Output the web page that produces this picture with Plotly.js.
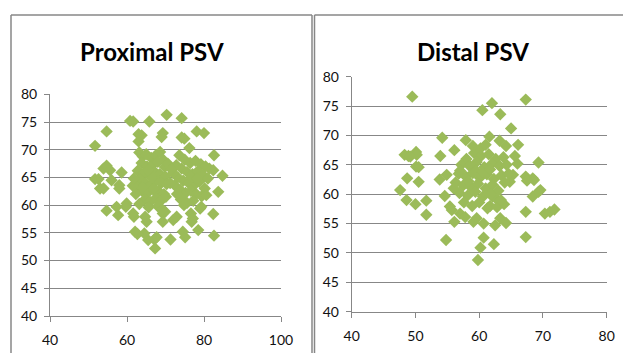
<!DOCTYPE html>
<html>
<head>
<meta charset="utf-8">
<script src="https://cdn.plot.ly/plotly-3.0.1.min.js"></script>
<style>html,body{margin:0;padding:0;background:#fff;}#chart{width:627px;height:353px;}</style>
</head>
<body>
<div id="chart"></div>
<script>
// Proximal PSV scatter values
const proximalX = [51.7,54.7,60.8,61.6,65.8,70.3,74.2,78.1,80.0,63.0,63.8,69.3,69.0,74.2,74.9,76.2,63.0,82.6,81.4,82.4,84.8,83.7,82.4,82.6,78.5,79.0,79.3,76.8,74.5,75.1,71.3,67.1,67.7,67.3,65.5,64.5,62.1,62.7,61.8,61.6,59.9,59.7,57.7,57.3,54.7,52.6,51.7,53.0,53.9,53.9,54.7,55.6,56.0,58.0,58.0,58.6,65.1,64.7,69.3,69.3,69.9,72.0,72.9,76.6,77.1,
63.2,64.1,65.0,66.3,67.5,68.6,69.4,63.8,65.2,66.7,68.0,69.8,70.6,62.8,64.3,65.9,67.2,68.5,69.9,63.4,64.8,66.2,67.6,68.9,70.3,62.5,63.9,65.3,66.8,68.2,69.6,64.6,66.0,67.4,68.8,70.1,63.2,65.6,68.0,69.2,66.5,67.0,65.5,64.0,62.3,61.5,61.8,
73.6,75.0,76.4,77.8,79.2,80.4,72.8,74.2,75.6,77.0,78.5,79.8,81.0,73.2,74.6,76.0,77.4,78.8,80.2,72.4,73.8,75.2,76.6,78.0,79.4,74.0,75.6,77.2,73.0,76.8,78.2,72.0,71.2,71.5,80.6,74.8];
const proximalY = [70.7,73.3,75.2,75.1,75.1,76.3,75.7,73.3,73.0,72.8,72.6,73.0,72.3,72.2,72.0,70.3,71.5,69.0,66.6,66.3,65.3,62.4,58.4,54.5,55.5,59.4,59.7,57.0,55.2,54.2,53.8,53.8,54.2,52.2,53.7,54.9,55.2,54.8,57.9,58.5,60.3,59.7,58.2,59.7,59.0,64.7,64.7,63.0,63.0,66.6,67.1,66.3,64.5,63.0,63.6,65.9,57.0,57.9,57.0,58.5,58.8,57.3,57.9,58.5,57.6,
69.5,68.8,69.2,68.5,69.0,69.6,68.2,67.6,67.0,67.3,67.8,66.9,67.5,66.2,65.8,65.4,66.0,65.6,65.2,64.6,64.0,63.7,64.4,64.0,63.8,63.3,62.6,62.2,62.8,62.5,62.0,61.0,60.6,61.2,60.8,61.5,60.2,59.6,59.8,59.2,65.0,63.0,66.3,63.2,62.0,63.5,64.8,
69.0,68.2,67.6,68.0,67.4,67.0,67.2,66.6,66.0,65.6,66.2,65.4,64.8,65.0,64.4,64.0,63.6,64.2,63.0,63.6,62.8,62.2,62.6,62.0,61.6,61.0,60.4,60.8,62.0,65.0,64.8,65.8,64.0,66.5,61.8,60.0];

// Distal PSV scatter values
const distalX = [49.5,67.3,62.0,60.5,63.3,65.0,54.2,57.9,61.6,63.2,64.2,66.1,48.3,48.9,50.1,50.2,49.2,53.9,56.1,65.6,66.0,69.3,68.4,68.6,67.3,67.5,65.3,64.8,50.1,50.5,48.7,50.5,53.8,54.9,47.6,48.6,50.0,51.7,51.7,54.6,55.4,55.7,56.1,54.8,57.0,57.8,59.1,59.6,60.7,62.5,63.3,64.2,63.9,60.7,60.2,62.3,59.8,67.3,67.3,68.4,69.3,69.6,70.3,71.1,71.8,62.1,62.7,61.7,
58.0,59.2,60.3,61.5,62.6,57.2,58.5,59.6,60.8,62.0,63.2,64.3,56.8,57.9,59.0,60.1,61.2,62.3,63.5,64.0,56.3,57.5,58.7,59.8,61.0,62.1,63.0,56.9,58.2,59.4,60.6,61.8,57.6,58.9,60.0,61.3,62.8,59.5,60.5,58.3,61.7,60.2,59.0,61.0,57.0,63.8,64.6,56.0,63.4];
const distalY = [76.6,76.1,75.5,74.3,73.6,71.2,69.6,69.2,69.8,69.1,68.2,68.4,66.7,66.5,67.2,66.7,66.4,66.5,67.5,66.5,65.2,65.4,62.7,62.4,63.0,62.3,63.3,62.1,64.7,64.6,62.7,62.1,62.5,63.3,60.7,59.0,58.3,58.9,56.5,59.7,57.9,57.3,55.3,52.2,56.7,56.1,55.3,55.9,55.0,54.7,55.9,55.1,58.3,52.6,50.9,51.5,48.8,52.7,57.0,59.6,60.4,60.7,56.7,57.0,57.4,59.6,59.2,58.0,
66.0,67.0,66.5,66.8,66.0,65.0,64.8,65.5,64.6,65.2,64.8,65.0,63.5,63.0,63.6,62.8,63.4,62.6,63.2,62.0,62.0,61.5,61.2,61.8,61.0,61.6,60.6,60.2,59.8,60.4,59.6,60.0,58.6,58.0,58.6,57.6,57.8,64.0,63.8,62.2,64.2,67.8,68.2,68.4,64.0,66.3,63.5,61.0,59.0];

const proxXTicks = [40,60,80,100];
const distXTicks = [40,50,60,70,80];
const yTicks = [40,45,50,55,60,65,70,75,80];

const W = 627, H = 353;
const px = v => v / W;
const py = v => 1 - v / H;
const green = '#9BBB59';
const gray = '#878787';
const fontFam = 'Lato, "Open Sans", sans-serif';

const marker = {symbol: 'diamond', size: 9.5, color: green, line: {width: 0}};

const traces = [
  {x: proximalX, y: proximalY, type: 'scatter', mode: 'markers', marker: marker, xaxis: 'x', yaxis: 'y', hoverinfo: 'skip'},
  {x: distalX, y: distalY, type: 'scatter', mode: 'markers', marker: marker, xaxis: 'x2', yaxis: 'y2', hoverinfo: 'skip'}
];

function xax(domain, ticks, range) {
  return {domain: domain, range: range, tickvals: ticks, ticktext: ticks.map(String),
    showgrid: false, zeroline: false, showline: true, linecolor: gray, linewidth: 1,
    ticks: 'outside', ticklen: 5, tickcolor: gray, tickwidth: 1,
    tickfont: {family: fontFam, size: 14, color: '#111'}, ticklabelstandoff: 6, fixedrange: true};
}
function yax(domain, anchor) {
  return {domain: domain, range: [40, 80], tickvals: yTicks, ticktext: yTicks.map(String), anchor: anchor,
    showgrid: true, gridcolor: gray, gridwidth: 1, zeroline: false, showline: true, linecolor: gray, linewidth: 1,
    ticks: 'outside', ticklen: 5, tickcolor: gray, tickwidth: 1,
    tickfont: {family: fontFam, size: 14, color: '#111'}, ticklabelstandoff: 4, fixedrange: true};
}

const layout = {
  width: W, height: H, margin: {l: 0, r: 0, t: 0, b: 0},
  paper_bgcolor: '#fff', plot_bgcolor: 'rgba(0,0,0,0)', showlegend: false,
  xaxis: Object.assign(xax([px(50), px(281)], proxXTicks, [40, 100]), {anchor: 'y'}),
  yaxis: yax([1 - 316/H, 1 - 94.3/H], 'x'),
  xaxis2: Object.assign(xax([px(351.7), px(606.7)], distXTicks, [40, 80]), {anchor: 'y2'}),
  yaxis2: yax([1 - 311.7/H, 1 - 76.7/H], 'x2'),
  annotations: [
    {text: '<b>Proximal PSV</b>', xref: 'paper', yref: 'paper', x: px(152), y: py(52), xanchor: 'center', yanchor: 'middle', showarrow: false, font: {family: fontFam, size: 24, color: '#000'}},
    {text: '<b>Distal PSV</b>', xref: 'paper', yref: 'paper', x: px(473), y: py(52), xanchor: 'center', yanchor: 'middle', showarrow: false, font: {family: fontFam, size: 24, color: '#000'}}
  ],
  shapes: [
    {type: 'line', xref: 'paper', yref: 'paper', x0: px(11), x1: px(312), y0: py(15), y1: py(15), line: {color: gray, width: 1.5}},
    {type: 'line', xref: 'paper', yref: 'paper', x0: px(11), x1: px(11), y0: py(15), y1: 0, line: {color: gray, width: 1.5}},
    {type: 'line', xref: 'paper', yref: 'paper', x0: px(312), x1: px(312), y0: py(15), y1: 0, line: {color: gray, width: 1.5}},
    {type: 'line', xref: 'paper', yref: 'paper', x0: px(314.5), x1: px(623), y0: py(15), y1: py(15), line: {color: gray, width: 1.5}},
    {type: 'line', xref: 'paper', yref: 'paper', x0: px(314.5), x1: px(314.5), y0: py(15), y1: 0, line: {color: gray, width: 1.5}}
  ]
};

Plotly.newPlot('chart', traces, layout, {staticPlot: true, displayModeBar: false});
</script>
</body>
</html>
